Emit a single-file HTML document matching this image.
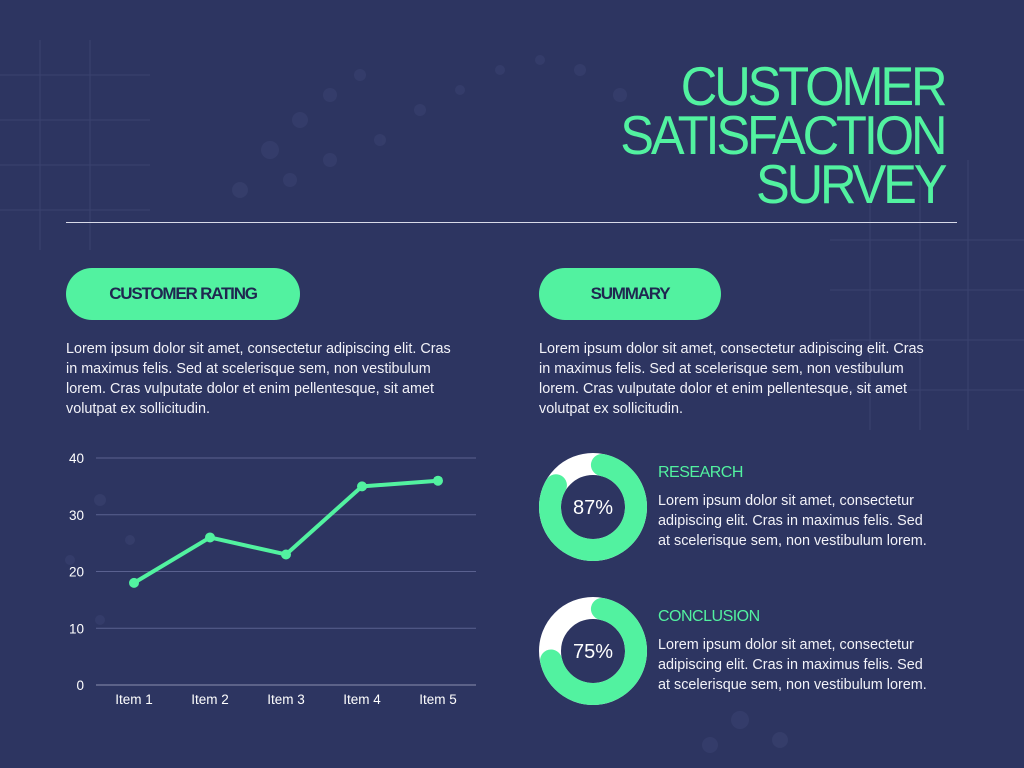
<!DOCTYPE html>
<html><head><meta charset="utf-8"><style>
body{margin:0;width:1024px;height:768px;background:#2d3561;overflow:hidden;position:relative;font-family:"Liberation Sans",sans-serif;color:#fff}
.abs{position:absolute}
.title{right:80px;top:62px;text-align:right;color:#52f2a0;font-size:55px;line-height:49px;letter-spacing:-3.4px;transform:scaleX(0.92);transform-origin:right top}
.pill{background:#52f2a0;border-radius:26px;height:52px;top:268px;color:#1f2750;font-weight:bold;font-size:17px;line-height:52px;text-align:center;letter-spacing:-1.2px}
.p{font-size:14.4px;line-height:20px;color:#f2f2f8}
.h{color:#52f2a0;font-size:16px;letter-spacing:-0.5px}
</style></head><body>
<svg class="abs" style="left:0;top:0" width="1024" height="768">
<g fill="#3a4270" opacity="0.6">
<circle cx="270" cy="150" r="9"/><circle cx="300" cy="120" r="8"/><circle cx="330" cy="95" r="7"/><circle cx="360" cy="75" r="6"/><circle cx="240" cy="190" r="8"/><circle cx="290" cy="180" r="7"/><circle cx="330" cy="160" r="7"/><circle cx="380" cy="140" r="6"/><circle cx="420" cy="110" r="6"/><circle cx="460" cy="90" r="5"/><circle cx="500" cy="70" r="5"/><circle cx="540" cy="60" r="5"/><circle cx="580" cy="70" r="6"/><circle cx="620" cy="95" r="7"/>
<circle cx="100" cy="500" r="6"/><circle cx="130" cy="540" r="5"/><circle cx="70" cy="560" r="5"/><circle cx="100" cy="620" r="5"/><circle cx="740" cy="720" r="9"/><circle cx="780" cy="740" r="8"/><circle cx="710" cy="745" r="8"/>
</g>
<g stroke="#3a4270" stroke-width="1" fill="none"><path d="M0 75H150M0 120H150M0 165H150M0 210H150M40 40V250M90 40V250M830 240H1024M830 290H1024M830 340H1024M830 390H1024M870 160V430M920 160V430M968 160V430"/></g>
</svg>
<div class="abs title">CUSTOMER<br>SATISFACTION<br>SURVEY</div>
<div class="abs" style="left:66px;top:222px;width:891px;height:1px;background:#d8dae8"></div>
<div class="abs pill" style="left:66px;width:234px">CUSTOMER RATING</div>
<div class="abs pill" style="left:539px;width:182px">SUMMARY</div>
<div class="abs p" style="left:66px;top:339px;width:397px">Lorem ipsum dolor sit amet, consectetur adipiscing elit. Cras in maximus felis. Sed at scelerisque sem, non vestibulum lorem. Cras vulputate dolor et enim pellentesque, sit amet volutpat ex sollicitudin.</div>
<div class="abs p" style="left:539px;top:339px;width:397px">Lorem ipsum dolor sit amet, consectetur adipiscing elit. Cras in maximus felis. Sed at scelerisque sem, non vestibulum lorem. Cras vulputate dolor et enim pellentesque, sit amet volutpat ex sollicitudin.</div>
<svg id="chart" class="abs" style="left:0;top:0" width="1024" height="768"></svg>
<svg class="abs" style="left:0;top:0" width="1024" height="768">
<g>
<circle cx="593" cy="507" r="43" fill="none" stroke="#fff" stroke-width="22"/>
<circle id="d1" cx="593" cy="507" r="43" fill="none" stroke="#52f2a0" stroke-width="22" stroke-linecap="round" transform="rotate(-78 593 507)"/>
<text x="593" y="514" text-anchor="middle" font-size="20" fill="#fff" font-family="Liberation Sans">87%</text></g>
<g>
<circle cx="593" cy="651" r="43" fill="none" stroke="#fff" stroke-width="22"/>
<circle id="d2" cx="593" cy="651" r="43" fill="none" stroke="#52f2a0" stroke-width="22" stroke-linecap="round" transform="rotate(-78 593 651)"/>
<text x="593" y="658" text-anchor="middle" font-size="20" fill="#fff" font-family="Liberation Sans">75%</text></g>
</svg>
<div class="abs h" style="left:658px;top:464px">RESEARCH</div>
<div class="abs p" style="left:658px;top:491px;width:276px">Lorem ipsum dolor sit amet, consectetur adipiscing elit. Cras in maximus felis. Sed at scelerisque sem, non vestibulum lorem.</div>
<div class="abs h" style="left:658px;top:608px">CONCLUSION</div>
<div class="abs p" style="left:658px;top:635px;width:276px">Lorem ipsum dolor sit amet, consectetur adipiscing elit. Cras in maximus felis. Sed at scelerisque sem, non vestibulum lorem.</div>
<script>
const categories=["Item 1","Item 2","Item 3","Item 4","Item 5"];
const values=[18,26,23,35,36];
const yTicks=[0,10,20,30,40];
const donutValues=[87,75];
const NS="http://www.w3.org/2000/svg";
const svg=document.getElementById("chart");
const y=v=>685-v*(227/40);
const x=i=>134+i*76;
function mk(t,a){const e=document.createElementNS(NS,t);for(const k in a)e.setAttribute(k,a[k]);svg.appendChild(e);return e;}
yTicks.forEach(t=>{
 const l=mk("line",{x1:96,x2:476,y1:y(t),y2:y(t),stroke:t===0?"#8a90b0":"#5a6190","stroke-width":1});
 
 
 const tx=mk("text",{x:84,y:y(t)+5,"text-anchor":"end","font-size":13.5,fill:"#fff","font-family":"Liberation Sans"});
 tx.textContent=t;
 
 
});
categories.forEach((c,i)=>{
 const tx=mk("text",{x:x(i),y:704,"text-anchor":"middle","font-size":13.5,fill:"#fff","font-family":"Liberation Sans"});
 tx.textContent=c;
 
 
});
const pl=mk("polyline",{points:values.map((v,i)=>x(i)+","+y(v)).join(" "),fill:"none",stroke:"#52f2a0","stroke-width":4,"stroke-linejoin":"round"});


values.forEach((v,i)=>{
 const c=mk("circle",{cx:x(i),cy:y(v),r:5,fill:"#52f2a0"});
 
 
});
const C=2*Math.PI*43;
["d1","d2"].forEach((id,i)=>{
 const len=C*(donutValues[i]/100)-C*0.07;
 document.getElementById(id).setAttribute("stroke-dasharray",len+" "+C);
});
</script>
</body></html>
